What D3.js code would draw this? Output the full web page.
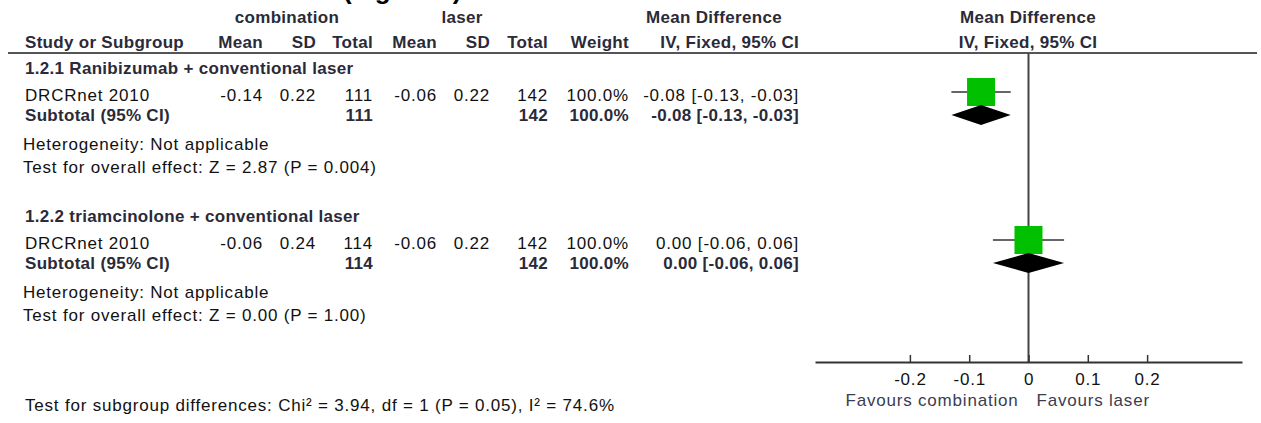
<!DOCTYPE html>
<html>
<head>
<meta charset="utf-8">
<script src="https://cdn.jsdelivr.net/npm/d3@7"></script>
<style>
  body { margin: 0; background: #fff; }
  svg { display: block; }
</style>
</head>
<body>
<div id="chart"></div>
<script>
// forest plot data
const subgroups = ["1.2.1 Ranibizumab + conventional laser", "1.2.2 triamcinolone + conventional laser"];
const studies = ["DRCRnet 2010", "DRCRnet 2010"];
const combMean = [-0.14, -0.06];
const combSD = [0.22, 0.24];
const combTotal = [111, 114];
const laserMean = [-0.06, -0.06];
const laserSD = [0.22, 0.22];
const laserTotal = [142, 142];
const weights = [100.0, 100.0];
const meanDiff = [-0.08, 0.00];
const ciLower = [-0.13, -0.06];
const ciUpper = [-0.03, 0.06];
const heterogeneity = ["Not applicable", "Not applicable"];
const zValues = ["2.87", "0.00"];
const pValues = ["0.004", "1.00"];
const axisTicks = [-0.2, -0.1, 0, 0.1, 0.2];
const axisDomain = [-0.36, 0.36];
const favours = ["Favours combination", "Favours laser"];
const subgroupTest = "Test for subgroup differences: Chi\u00b2 = 3.94, df = 1 (P = 0.05), I\u00b2 = 74.6%";

const width = 1261;
const height = 423;
const font = "'Liberation Sans', Arial, sans-serif";
const boldColor = "#2a2a38";
const textColor = "#111";

const svg = d3.select("#chart")
  .append("svg")
    .attr("width", width)
    .attr("height", height)
    .attr("font-family", font);

const x = d3.scaleLinear().domain(axisDomain).range([815, 1242]);

const fmt = v => v.toFixed(2);
const ciText = i => `${fmt(meanDiff[i])} [${fmt(ciLower[i])}, ${fmt(ciUpper[i])}]`;

function addText(px, py, s, anchor, bold) {
  return svg.append("text")
    .attr("x", px)
    .attr("y", py)
    .attr("dy", "0.35em")
    .attr("text-anchor", anchor || "start")
    .attr("font-size", 17)
    .attr("font-weight", bold ? "bold" : "normal")
    .attr("letter-spacing", bold ? 0.3 : 0.8)
    .attr("fill", bold ? boldColor : textColor)
    .text(s);
}

// title, cut off by the top edge in the original
svg.append("text")
  .attr("x", 343)
  .attr("y", -1)
  .attr("font-size", 26)
  .attr("font-weight", "bold")
  .attr("fill", "#000")
  .text("(Figure 3)");

// column headers
addText(287, 17, "combination", "middle", true);
addText(462, 17, "laser", "middle", true);
addText(714, 17, "Mean Difference", "middle", true);
addText(1028, 17, "Mean Difference", "middle", true);

addText(25, 42, "Study or Subgroup", "start", true);
const cols = [263, 316, 373, 437, 490, 548, 629, 799];
const colHeads = ["Mean", "SD", "Total", "Mean", "SD", "Total", "Weight", "IV, Fixed, 95% CI"];
colHeads.forEach((h, k) => addText(cols[k], 42, h, "end", true));
addText(1028, 42, "IV, Fixed, 95% CI", "middle", true);

svg.append("line")
  .attr("x1", 8).attr("x2", 1257)
  .attr("y1", 53).attr("y2", 53)
  .attr("stroke", "#555")
  .attr("stroke-width", 2);

// zero line
svg.append("line")
  .attr("x1", x(0)).attr("x2", x(0))
  .attr("y1", 53).attr("y2", 362)
  .attr("stroke", "#444")
  .attr("stroke-width", 2);

subgroups.forEach((name, i) => {
  const y0 = 68 + i * 148;
  addText(25, y0, name, "start", true);

  // study row
  const ys = y0 + 27;
  addText(25, ys, studies[i]);
  const vals = [fmt(combMean[i]), fmt(combSD[i]), combTotal[i], fmt(laserMean[i]), fmt(laserSD[i]),
    laserTotal[i], weights[i].toFixed(1) + "%", ciText(i)];
  vals.forEach((v, k) => addText(cols[k], ys, v, "end"));

  // subtotal row
  const yt = y0 + 47;
  addText(25, yt, "Subtotal (95% CI)", "start", true);
  addText(cols[2], yt, combTotal[i], "end", true);
  addText(cols[5], yt, laserTotal[i], "end", true);
  addText(cols[6], yt, weights[i].toFixed(1) + "%", "end", true);
  addText(cols[7], yt, ciText(i), "end", true);

  addText(23, y0 + 76, "Heterogeneity: " + heterogeneity[i]);
  addText(23, y0 + 99, `Test for overall effect: Z = ${zValues[i]} (P = ${pValues[i]})`);

  // CI line and weighted square
  const yc = ys - 3;
  svg.append("line")
    .attr("x1", x(ciLower[i])).attr("x2", x(ciUpper[i]))
    .attr("y1", yc).attr("y2", yc)
    .attr("stroke", "#666")
    .attr("stroke-width", 2);
  const sz = Math.sqrt(weights[i] / 100) * 28;
  svg.append("rect")
    .attr("x", x(meanDiff[i]) - sz / 2)
    .attr("y", yc - sz / 2)
    .attr("width", sz)
    .attr("height", sz)
    .attr("fill", "#00c000");

  // pooled diamond
  svg.append("path")
    .attr("d", `M${x(ciLower[i])},${yt}L${x(meanDiff[i])},${yt - 10}L${x(ciUpper[i])},${yt}L${x(meanDiff[i])},${yt + 10}Z`)
    .attr("fill", "#000");
});

// axis
const axis = svg.append("g")
  .attr("transform", "translate(0,362)")
  .call(d3.axisBottom(x)
    .tickValues(axisTicks)
    .tickFormat(d => String(d))
    .tickSizeInner(-7)
    .tickSizeOuter(0)
    .tickPadding(11));
axis.select(".domain").attr("stroke", "#333").attr("stroke-width", 2);
axis.selectAll(".tick line").attr("stroke", "#333").attr("stroke-width", 1.5);
axis.selectAll(".tick text")
  .attr("font-family", font)
  .attr("font-size", 17)
  .attr("letter-spacing", 0.8)
  .attr("fill", textColor);

addText(x(0) - 10, 400, favours[0], "end").attr("fill", "#3c3c50");
addText(x(0) + 8, 400, favours[1], "start").attr("fill", "#3c3c50");

addText(25, 405, subgroupTest);
</script>
</body>
</html>
